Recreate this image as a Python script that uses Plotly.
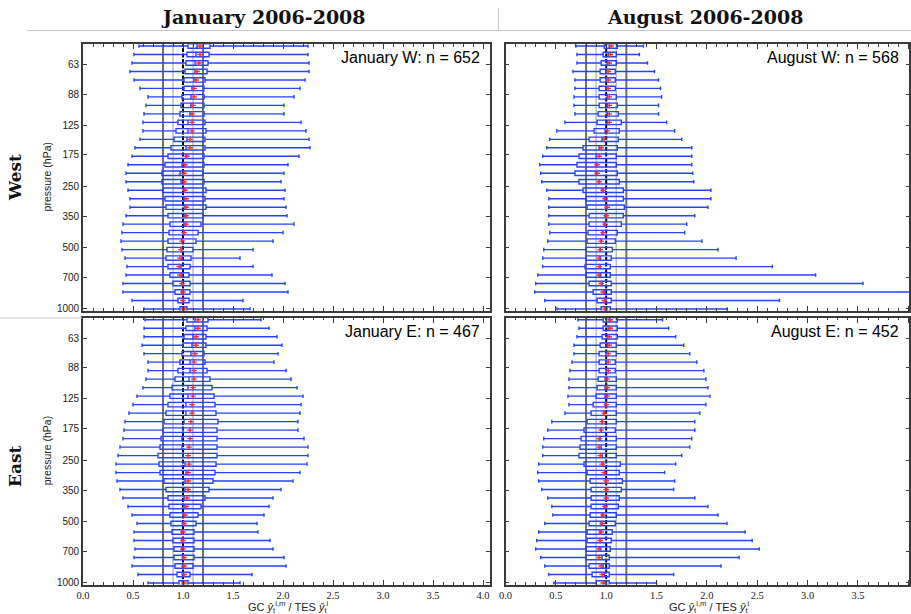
import math
import plotly.graph_objects as go

# TES retrieval levels (hPa), listed from the top of each panel to the bottom
PRESSURE_HPA = [51.09, 56.23, 61.90, 68.13, 74.99, 82.54, 90.85, 100.0, 110.1, 121.2,
                133.4, 146.8, 161.6, 177.8, 195.7, 215.4, 237.1, 261.0, 287.3, 316.2,
                348.1, 383.1, 421.7, 464.2, 510.9, 562.3, 619.0, 681.3, 749.9, 825.4,
                908.5, 1000.0]

Y_TICKS_HPA = [63, 88, 125, 175, 250, 350, 500, 700, 1000]
X_TICKS = [0.0, 0.5, 1.0, 1.5, 2.0, 2.5, 3.0, 3.5, 4.0]
REF_LINES = [0.8, 0.9, 1.0, 1.1, 1.2]

# January, West
jan_w_lo = [0.56, 0.51, 0.49, 0.47, 0.51, 0.57, 0.65, 0.63, 0.61, 0.60, 0.60, 0.57, 0.52, 0.49, 0.45, 0.43,
            0.43, 0.45, 0.47, 0.47, 0.43, 0.40, 0.39, 0.38, 0.39, 0.42, 0.44, 0.43, 0.40, 0.40, 0.49, 0.61]
jan_w_q1 = [1.05, 1.04, 1.03, 1.02, 1.01, 1.01, 0.99, 0.98, 0.97, 0.95, 0.93, 0.91, 0.88, 0.85, 0.82, 0.79,
            0.79, 0.80, 0.82, 0.83, 0.85, 0.87, 0.86, 0.85, 0.84, 0.83, 0.85, 0.87, 0.90, 0.92, 0.95, 0.97]
jan_w_med = [1.14, 1.13, 1.12, 1.12, 1.11, 1.09, 1.08, 1.08, 1.07, 1.05, 1.05, 1.04, 1.03, 1.03, 0.99, 0.97,
             0.98, 1.01, 1.01, 1.02, 1.02, 1.01, 1.01, 0.99, 0.99, 0.99, 0.98, 0.99, 0.99, 0.99, 1.00, 1.01]
jan_w_q3 = [1.27, 1.26, 1.25, 1.24, 1.22, 1.21, 1.21, 1.21, 1.21, 1.22, 1.23, 1.22, 1.22, 1.21, 1.21, 1.20,
            1.21, 1.23, 1.22, 1.23, 1.20, 1.18, 1.15, 1.13, 1.10, 1.08, 1.07, 1.06, 1.07, 1.07, 1.06, 1.04]
jan_w_hi = [2.25, 2.25, 2.26, 2.26, 2.22, 2.17, 2.11, 2.01, 2.01, 2.18, 2.23, 2.26, 2.27, 2.16, 2.05, 2.01,
            1.98, 2.02, 2.01, 2.03, 2.04, 2.11, 2.00, 1.90, 1.70, 1.57, 1.70, 1.89, 2.02, 2.05, 1.60, 1.67]
jan_w_mean = [1.17, 1.17, 1.16, 1.14, 1.13, 1.11, 1.11, 1.10, 1.09, 1.09, 1.09, 1.07, 1.07, 1.04, 1.02, 1.01,
              1.01, 1.02, 1.03, 1.03, 1.03, 1.03, 1.01, 0.99, 0.98, 0.97, 0.96, 0.97, 0.99, 1.00, 1.00, 1.01]

# August, West
aug_w_lo = [0.70, 0.71, 0.71, 0.67, 0.69, 0.69, 0.68, 0.68, 0.69, 0.59, 0.51, 0.44, 0.41, 0.37, 0.34, 0.35,
            0.36, 0.41, 0.43, 0.43, 0.43, 0.43, 0.44, 0.42, 0.38, 0.37, 0.37, 0.32, 0.30, 0.29, 0.39, 0.51]
aug_w_q1 = [0.98, 0.97, 0.95, 0.94, 0.94, 0.93, 0.93, 0.93, 0.92, 0.91, 0.88, 0.83, 0.77, 0.73, 0.71, 0.69,
            0.73, 0.77, 0.80, 0.81, 0.83, 0.83, 0.82, 0.81, 0.80, 0.80, 0.79, 0.80, 0.83, 0.87, 0.91, 0.95]
aug_w_med = [1.03, 1.02, 1.01, 1.00, 1.00, 1.00, 1.01, 1.01, 1.01, 1.01, 0.99, 0.96, 0.93, 0.90, 0.90, 0.90,
             0.93, 0.96, 0.98, 1.00, 0.99, 0.98, 0.96, 0.95, 0.94, 0.94, 0.94, 0.94, 0.96, 0.98, 0.99, 0.99]
aug_w_q3 = [1.11, 1.10, 1.10, 1.09, 1.09, 1.09, 1.10, 1.11, 1.12, 1.15, 1.13, 1.12, 1.11, 1.10, 1.10, 1.11,
            1.13, 1.17, 1.17, 1.18, 1.17, 1.15, 1.11, 1.09, 1.06, 1.05, 1.04, 1.04, 1.05, 1.05, 1.05, 1.04]
aug_w_hi = [1.37, 1.33, 1.41, 1.48, 1.52, 1.54, 1.55, 1.52, 1.52, 1.60, 1.68, 1.75, 1.85, 1.85, 1.85, 1.86,
            1.87, 2.04, 2.04, 2.01, 1.88, 1.80, 1.78, 1.95, 2.11, 2.29, 2.65, 3.08, 3.55, 4.10, 2.72, 2.20]
aug_w_mean = [1.05, 1.04, 1.03, 1.02, 1.02, 1.02, 1.03, 1.03, 1.03, 1.03, 1.01, 0.98, 0.95, 0.93, 0.91, 0.91,
              0.93, 0.97, 0.99, 1.01, 1.00, 0.99, 0.97, 0.95, 0.94, 0.93, 0.93, 0.93, 0.95, 0.97, 0.98, 0.99]

# January, East
jan_e_lo = [0.62, 0.61, 0.61, 0.59, 0.61, 0.65, 0.65, 0.63, 0.60, 0.54, 0.50, 0.46, 0.42, 0.41, 0.40, 0.37,
            0.35, 0.33, 0.33, 0.34, 0.37, 0.40, 0.45, 0.49, 0.54, 0.51, 0.51, 0.52, 0.51, 0.49, 0.55, 0.65]
jan_e_q1 = [1.04, 1.03, 1.01, 1.00, 0.99, 0.97, 0.95, 0.92, 0.89, 0.87, 0.85, 0.83, 0.81, 0.80, 0.78, 0.77,
            0.75, 0.76, 0.77, 0.81, 0.83, 0.85, 0.86, 0.87, 0.88, 0.89, 0.90, 0.91, 0.91, 0.92, 0.94, 0.96]
jan_e_med = [1.12, 1.12, 1.10, 1.09, 1.08, 1.07, 1.07, 1.06, 1.05, 1.05, 1.03, 1.03, 1.01, 1.00, 0.99, 0.99,
             1.00, 1.02, 1.03, 1.02, 1.02, 1.01, 1.01, 1.00, 1.00, 0.99, 0.99, 0.99, 1.00, 1.00, 1.00, 1.00]
jan_e_q3 = [1.25, 1.24, 1.23, 1.23, 1.21, 1.22, 1.24, 1.27, 1.29, 1.31, 1.32, 1.33, 1.35, 1.34, 1.34, 1.34,
            1.34, 1.33, 1.32, 1.30, 1.26, 1.22, 1.18, 1.15, 1.13, 1.11, 1.11, 1.11, 1.11, 1.10, 1.07, 1.05]
jan_e_hi = [1.78, 1.86, 1.94, 1.99, 1.95, 1.91, 2.03, 2.08, 2.14, 2.20, 2.18, 2.17, 2.15, 2.15, 2.21, 2.25,
            2.25, 2.24, 2.17, 2.10, 1.98, 1.90, 1.86, 1.81, 1.74, 1.75, 1.87, 1.90, 2.01, 2.03, 1.69, 1.57]
jan_e_mean = [1.15, 1.15, 1.13, 1.13, 1.12, 1.11, 1.11, 1.11, 1.10, 1.10, 1.09, 1.09, 1.08, 1.07, 1.07, 1.06,
              1.05, 1.06, 1.05, 1.05, 1.05, 1.04, 1.03, 1.02, 1.01, 1.00, 1.00, 1.00, 1.01, 1.01, 1.01, 1.01]

# August, East
aug_e_lo = [0.72, 0.73, 0.71, 0.68, 0.68, 0.66, 0.64, 0.63, 0.63, 0.62, 0.63, 0.59, 0.46, 0.42, 0.38, 0.37,
            0.37, 0.33, 0.32, 0.33, 0.36, 0.42, 0.46, 0.47, 0.39, 0.33, 0.31, 0.30, 0.35, 0.39, 0.43, 0.48]
aug_e_q1 = [0.97, 0.97, 0.96, 0.94, 0.93, 0.93, 0.93, 0.92, 0.91, 0.90, 0.87, 0.85, 0.81, 0.78, 0.75, 0.74,
            0.73, 0.78, 0.81, 0.84, 0.85, 0.85, 0.85, 0.84, 0.83, 0.81, 0.81, 0.80, 0.80, 0.83, 0.86, 0.90]
aug_e_med = [1.03, 1.02, 1.01, 1.01, 1.00, 1.00, 1.00, 0.99, 0.99, 0.99, 0.99, 0.98, 0.96, 0.95, 0.94, 0.95,
             0.96, 0.97, 0.99, 1.00, 1.00, 1.00, 0.98, 0.96, 0.95, 0.94, 0.94, 0.94, 0.96, 0.97, 0.98, 0.99]
aug_e_q3 = [1.11, 1.11, 1.11, 1.10, 1.10, 1.09, 1.09, 1.10, 1.10, 1.10, 1.10, 1.10, 1.10, 1.09, 1.10, 1.10,
            1.10, 1.14, 1.13, 1.16, 1.15, 1.13, 1.12, 1.10, 1.09, 1.06, 1.05, 1.04, 1.03, 1.03, 1.03, 1.03]
aug_e_hi = [1.56, 1.62, 1.69, 1.77, 1.83, 1.90, 1.97, 1.99, 2.01, 2.03, 1.99, 1.93, 1.88, 1.88, 1.85, 1.83,
            1.75, 1.69, 1.58, 1.68, 1.67, 1.88, 2.01, 2.11, 2.20, 2.38, 2.45, 2.52, 2.32, 2.14, 1.67, 1.50]
aug_e_mean = [1.04, 1.04, 1.03, 1.03, 1.02, 1.02, 1.02, 1.01, 1.01, 1.01, 1.00, 0.98, 0.96, 0.95, 0.93, 0.93,
              0.94, 0.96, 0.98, 1.00, 1.00, 1.00, 0.99, 0.97, 0.96, 0.95, 0.94, 0.93, 0.93, 0.95, 0.96, 0.97]

PANEL_LABELS = ["January W: n = 652", "August W: n = 568", "January E: n = 467", "August E: n = 452"]
COLUMN_TITLES = ["January 2006-2008", "August 2006-2008"]
ROW_TITLES = ["West", "East"]

panels = [
    (jan_w_lo, jan_w_q1, jan_w_med, jan_w_q3, jan_w_hi, jan_w_mean),
    (aug_w_lo, aug_w_q1, aug_w_med, aug_w_q3, aug_w_hi, aug_w_mean),
    (jan_e_lo, jan_e_q1, jan_e_med, jan_e_q3, jan_e_hi, jan_e_mean),
    (aug_e_lo, aug_e_q1, aug_e_med, aug_e_q3, aug_e_hi, aug_e_mean),
]

W, H = 911, 614
BLUE = "#2643ff"
RED = "#ff2a2a"
FRAME = "#3c3c3c"
SEP = "#c9c9c9"


def fx(px):
    return px / W


def fy(px):
    return 1 - px / H


# pixel extents of the four plotting areas
col_px = [(83.0, 490.0), (505.5, 909.3)]
row_px = [(44.3, 310.5), (318.0, 584.5)]
x_ranges = [[0, 4.07], [0, 4.01]]
y_range = [math.log10(1000) + 0.0074, 1.700]

log_p = [math.log10(p) for p in PRESSURE_HPA]

fig = go.Figure()
shapes = []
annotations = []

for i, (lo, q1, med, q3, hi, mean) in enumerate(panels):
    r, c = divmod(i, 2)
    sfx = "" if i == 0 else str(i + 1)
    xa, ya = "x" + sfx, "y" + sfx

    fig.add_trace(go.Box(
        orientation="h", y=log_p, q1=q1, median=med, q3=q3,
        lowerfence=lo, upperfence=hi, boxpoints=False,
        width=0.022, whiskerwidth=0.8,
        line=dict(color=BLUE, width=1.4), fillcolor="rgba(255,255,255,0)",
        xaxis=xa, yaxis=ya, hoverinfo="skip", showlegend=False,
    ))
    fig.add_trace(go.Scatter(
        x=mean, y=log_p, mode="markers",
        marker=dict(symbol="cross-thin", size=4, line=dict(color=RED, width=1.4)),
        xaxis=xa, yaxis=ya, hoverinfo="skip", showlegend=False,
    ))

    for v in REF_LINES:
        if v == 1.0:
            ln = dict(color="black", width=2, dash="4px,1.5px")
        elif v in (0.8, 1.2):
            ln = dict(color="#707070", width=2)
        else:
            ln = dict(color="#bdbdbd", width=1.5)
        shapes.append(dict(type="line", xref=xa, yref=ya + " domain", x0=v, x1=v, y0=0, y1=1,
                           layer="below", line=ln))

    x0, x1 = col_px[c]
    y0, y1 = row_px[r]
    common_x = dict(
        domain=[fx(x0), fx(x1)], range=x_ranges[c], anchor=ya, automargin=False,
        showline=True, linecolor=FRAME, linewidth=1.6, mirror="allticks",
        ticks="inside", ticklen=5, tickcolor=FRAME, tickwidth=1,
        tickvals=X_TICKS, tickformat=".1f", showgrid=False, zeroline=False,
        showticklabels=(r == 1), ticklabelstandoff=0,
        tickfont=dict(family="Liberation Serif", size=10.5, color="#222"),
        minor=dict(dtick=0.1, ticks="inside", ticklen=2.5, tickcolor=FRAME, tickwidth=1),
    )
    common_y = dict(
        domain=[fy(y1), fy(y0)], range=y_range, anchor=xa, automargin=False,
        showline=True, linecolor=FRAME, linewidth=1.6, mirror="allticks",
        ticks="inside", ticklen=4, tickcolor=FRAME, tickwidth=1,
        tickvals=[math.log10(t) for t in Y_TICKS_HPA], ticktext=[str(t) for t in Y_TICKS_HPA],
        showgrid=False, zeroline=False, showticklabels=(c == 0),
        tickfont=dict(family="Liberation Sans", size=10, color="#222"),
    )
    fig.update_layout(**{"xaxis" + sfx: common_x, "yaxis" + sfx: common_y})

    # sample size label in the upper right corner
    annotations.append(dict(text=PANEL_LABELS[i], xref="paper", yref="paper",
                            x=fx(x1 - 8), y=fy(y0 + 13), xanchor="right", yanchor="middle",
                            showarrow=False, font=dict(family="Liberation Sans", size=16, color="black")))

    if c == 0:
        annotations.append(dict(text="pressure (hPa)", xref="paper", yref="paper",
                                x=fx(47), y=fy((y0 + y1) / 2), textangle=-90,
                                xanchor="center", yanchor="middle", showarrow=False,
                                font=dict(family="Liberation Sans", size=10.5, color="#222")))
    if r == 1:
        annotations.append(dict(
            text="GC <i>ŷ</i><sub>t</sub><sup>i,m</sup> / TES <i>ŷ</i><sub>t</sub><sup>i</sup>",
            xref="paper", yref="paper", x=fx((x0 + x1) / 2 + 2), y=fy(606.5),
            xanchor="center", yanchor="middle", showarrow=False,
            font=dict(family="Liberation Sans", size=11, color="#222")))

for c, title in enumerate(COLUMN_TITLES):
    cx = [263, 705][c]
    annotations.append(dict(text="<b>%s</b>" % title, xref="paper", yref="paper",
                            x=fx(cx), y=fy(17), xanchor="center", yanchor="middle", showarrow=False,
                            font=dict(family="DejaVu Serif", size=19, color="#111")))

for r, title in enumerate(ROW_TITLES):
    cy = [178, 466][r]
    annotations.append(dict(text="<b>%s</b>" % title, xref="paper", yref="paper",
                            x=fx(15), y=fy(cy), textangle=-90, xanchor="center", yanchor="middle",
                            showarrow=False, font=dict(family="DejaVu Serif", size=17, color="#111")))

# light separators between the title cells
for (a, b, c2, d) in [(27, 30.5, 911, 30.5), (498.5, 8, 498.5, 30.5), (0, 318, 82, 318)]:
    shapes.append(dict(type="line", xref="paper", yref="paper",
                       x0=fx(a), y0=fy(b), x1=fx(c2), y1=fy(d),
                       line=dict(color=SEP, width=1)))

fig.update_layout(
    width=W, height=H, margin=dict(l=0, r=0, t=0, b=0, autoexpand=False),
    paper_bgcolor="white", plot_bgcolor="white",
    shapes=shapes, annotations=annotations, showlegend=False,
)

fig.write_html("out.html")
